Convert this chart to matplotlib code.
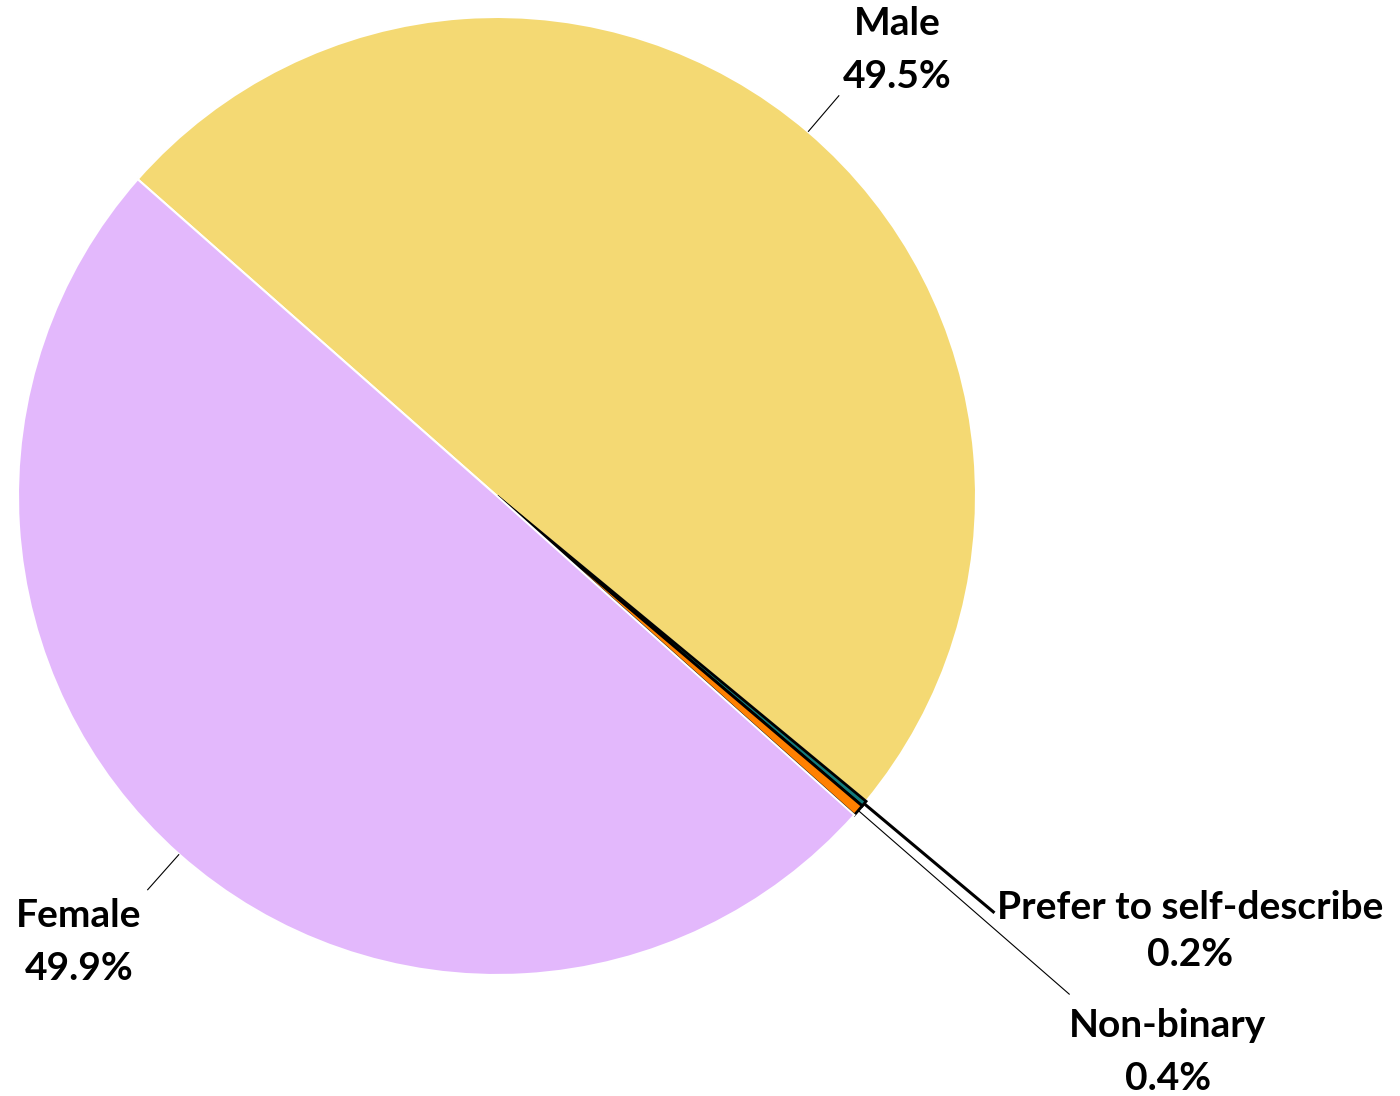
import numpy as np
import matplotlib.pyplot as plt

labels = ["Male", "Prefer to self-describe", "Non-binary", "Female"]
shares = [49.5, 0.2, 0.4, 49.9]
colors = ["#F4D973", "#137B7B", "#FF8000", "#E3B8FC"]
edge_colors = ["white", "black", "black", "white"]

fig = plt.figure(figsize=(14, 10.96), dpi=100)
ax = fig.add_axes([0, 0, 1, 1])

cx, cy, r = 497, 600, 479
wedges, _ = ax.pie(shares, colors=colors, startangle=138.6, counterclock=False,
                   center=(cx, cy), radius=r, frame=True)
for w, ec in zip(wedges, edge_colors):
    w.set_edgecolor(ec)
    w.set_linewidth(2 if ec == "black" else 1.5)
ax.set_xlim(0, 1400)
ax.set_ylim(0, 1096)
ax.set_aspect("equal")
ax.axis("off")

# leader lines: (outer radius factor, line width)
leaders = [(1.10, 0.8), (1.355, 2.2), (1.585, 0.8), (1.10, 0.8)]
text_pos = [(897, 1096 - 50), (1190, 1096 - 931), (1168, 1096 - 1052), (79, 1096 - 942)]
spacing = [1.6, 1.38, 1.6, 1.6]
font = dict(family=["Lato", "DejaVu Sans"], fontweight="bold", fontsize=28)
for w, lab, val, (rf, lw), (tx, ty), ls in zip(wedges, labels, shares, leaders, text_pos, spacing):
    ang = np.deg2rad((w.theta1 + w.theta2) / 2)
    x0, y0 = cx + r * np.cos(ang), cy + r * np.sin(ang)
    x1, y1 = cx + rf * r * np.cos(ang), cy + rf * r * np.sin(ang)
    ax.plot([x0, x1], [y0, y1], color="black", lw=lw, solid_capstyle="butt")
    ax.text(tx, ty, f"{lab}\n{val}%", ha="center", va="center",
            linespacing=ls, **font)

fig.savefig("out.png", dpi=100)
